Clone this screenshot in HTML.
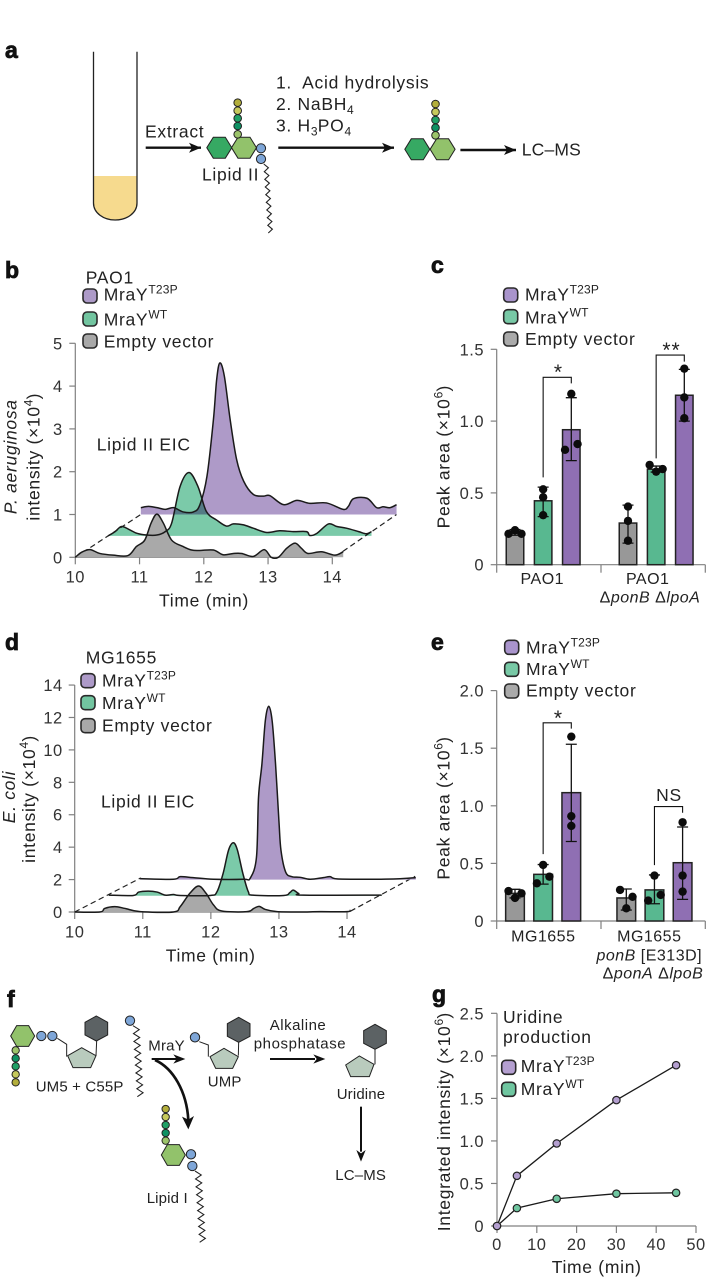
<!DOCTYPE html>
<html lang="en">
<head>
<meta charset="utf-8">
<title>MraY lipid II figure</title>
<style>
html,body{margin:0;padding:0;background:#fff;width:706px;height:1279px;overflow:hidden}
svg{display:block}
text{font-family:"Liberation Sans",sans-serif;font-size:17.5px;letter-spacing:.7px;fill:#222}
.panel{font-size:23px;font-weight:bold;letter-spacing:0;fill:#111;stroke:#111;stroke-width:.8px}
.tick{font-size:16.5px;letter-spacing:.5px;fill:#333}
.cat{font-size:16px;letter-spacing:.5px}
.sup{font-size:12px;letter-spacing:.2px}
.swatch{stroke:#2a2a2a;stroke-width:1.6}
.sch{font-size:15px;letter-spacing:.15px}
.star{font-size:21px;letter-spacing:1px}
</style>
</head>
<body>
<svg xmlns="http://www.w3.org/2000/svg" width="706" height="1279" viewBox="0 0 706 1279">
<defs>
<marker id="ah" markerUnits="userSpaceOnUse" markerWidth="14" markerHeight="12" refX="12" refY="5" orient="auto"><path d="M0,0 L12,5 L0,10 L3,5Z" fill="#111"/></marker>
</defs>

<!-- PANEL A -->
<g>
<text class="panel" x="5" y="58">a</text>
<path d="M93.5,176 H137 V203 C137,213 127,220 115.2,220 C103.5,220 93.5,213 93.5,203Z" fill="#f6da8e"/>
<path d="M93.5,51.7 V203 C93.5,213 103.5,220 115.2,220 C127,220 137,213 137,203 V51.7" fill="none" stroke="#222" stroke-width="1.3"/>
<text x="145" y="137.5">Extract</text>
<line x1="145.7" y1="147.7" x2="201" y2="147.7" stroke="#111" stroke-width="2.4" marker-end="url(#ah)"/>
<g stroke="#222" stroke-width="1">
<polygon transform="translate(219.3,147.7)" points="-12.5,0 -6,-10.5 6,-10.5 12.5,0 6,10.5 -6,10.5" fill="#36a963"/>
<polygon transform="translate(244,147.7)" points="-12.5,0 -6,-10.5 6,-10.5 12.5,0 6,10.5 -6,10.5" fill="#92c26b"/>
<circle cx="237.7" cy="102.7" r="3.8" fill="#b3ae3c"/>
<circle cx="237.7" cy="110.7" r="3.8" fill="#c6c95c"/>
<circle cx="237.7" cy="118.3" r="3.8" fill="#1fa066"/>
<circle cx="237.7" cy="126" r="3.8" fill="#0e9163"/>
<circle cx="237.7" cy="134.3" r="3.8" fill="#9cc46a"/>
<circle cx="261" cy="148.3" r="4.6" fill="#7ea6d8"/>
<circle cx="261" cy="159" r="4.6" fill="#7ea6d8"/>
</g>
<polyline data-zig="266,164,270.5,233,9,2.2" fill="none" stroke="#222" stroke-width="1.1"/>
<text x="202" y="180.7">Lipid II</text>
<text x="276" y="88.3">1.&#160; Acid hydrolysis</text>
<text x="276" y="110">2. NaBH<tspan class="sup" dy="4">4</tspan></text>
<text x="276" y="131.7">3. H<tspan class="sup" dy="4">3</tspan><tspan dy="-4">PO</tspan><tspan class="sup" dy="4">4</tspan></text>
<line x1="278.3" y1="147.7" x2="394" y2="147.7" stroke="#111" stroke-width="2.4" marker-end="url(#ah)"/>
<g stroke="#222" stroke-width="1">
<polygon transform="translate(417.3,149.3)" points="-12.5,0 -6,-10.5 6,-10.5 12.5,0 6,10.5 -6,10.5" fill="#36a963"/>
<polygon transform="translate(442.6,149.3)" points="-12.5,0 -6,-10.5 6,-10.5 12.5,0 6,10.5 -6,10.5" fill="#92c26b"/>
<circle cx="435.5" cy="104" r="3.8" fill="#b3ae3c"/>
<circle cx="435.5" cy="112" r="3.8" fill="#c6c95c"/>
<circle cx="435.5" cy="120" r="3.8" fill="#1fa066"/>
<circle cx="435.5" cy="127.7" r="3.8" fill="#0e9163"/>
<circle cx="435.5" cy="135.3" r="3.8" fill="#9cc46a"/>
</g>
<line x1="460.4" y1="150" x2="516" y2="150" stroke="#111" stroke-width="2.4" marker-end="url(#ah)"/>
<text x="521.8" y="155.5" style="letter-spacing:.15px">LC–MS</text>
</g>

<!-- PANEL B -->
<g>
<text class="panel" x="5" y="278">b</text>
<g id="chart-b"></g>
<text x="85.7" y="283.3">PAO1</text>
<rect class="swatch" x="83" y="289" width="14" height="14" rx="4" fill="#ad9ac8"/>
<text x="103.7" y="300.7">MraY<tspan class="sup" dy="-7">T23P</tspan></text>
<rect class="swatch" x="83" y="312" width="14" height="14" rx="4" fill="#72c5a0"/>
<text x="103.7" y="325.7">MraY<tspan class="sup" dy="-7">WT</tspan></text>
<rect class="swatch" x="83" y="334" width="14" height="14" rx="4" fill="#a8a8a8"/>
<text x="103.7" y="347.7">Empty vector</text>
<text x="96.7" y="450.7">Lipid II EIC</text>
<text transform="translate(16.7,456.7) rotate(-90)" text-anchor="middle"><tspan font-style="italic">P. aeruginosa</tspan></text>
<text transform="translate(39.3,456.7) rotate(-90)" text-anchor="middle">intensity (×10<tspan class="sup" dy="-7">4</tspan><tspan dy="7">)</tspan></text>
<text x="204" y="606.7" text-anchor="middle">Time (min)</text>
</g>

<!-- PANEL C -->
<g>
<text class="panel" x="431" y="273">c</text>
<g id="chart-c"></g>
<rect class="swatch" x="503.7" y="288" width="14" height="14" rx="4" fill="#a994cc"/>
<text x="525" y="300.7">MraY<tspan class="sup" dy="-7">T23P</tspan></text>
<rect class="swatch" x="503.7" y="309.7" width="14" height="14" rx="4" fill="#78c9a6"/>
<text x="525" y="323.3">MraY<tspan class="sup" dy="-7">WT</tspan></text>
<rect class="swatch" x="503.7" y="332" width="14" height="14" rx="4" fill="#aaa"/>
<text x="525" y="345">Empty vector</text>
<text transform="translate(449.3,456.7) rotate(-90)" text-anchor="middle">Peak area (×10<tspan class="sup" dy="-7">6</tspan><tspan dy="7">)</tspan></text>
<text class="cat" x="542.3" y="584" text-anchor="middle">PAO1</text>
<text class="cat" x="647.7" y="584" text-anchor="middle">PAO1</text>
<text class="cat" x="650" y="602.3" text-anchor="middle">Δ<tspan font-style="italic">ponB</tspan> Δ<tspan font-style="italic">lpoA</tspan></text>
<text class="star" x="558.5" y="379" text-anchor="middle">*</text>
<text class="star" x="671.5" y="357" text-anchor="middle">**</text>
</g>

<!-- PANEL D -->
<g>
<text class="panel" x="5" y="650">d</text>
<g id="chart-d"></g>
<text x="85.7" y="663.3">MG1655</text>
<rect class="swatch" x="81" y="673.7" width="14" height="14" rx="4" fill="#ad9ac8"/>
<text x="102" y="686.7">MraY<tspan class="sup" dy="-7">T23P</tspan></text>
<rect class="swatch" x="81" y="695.7" width="14" height="14" rx="4" fill="#72c5a0"/>
<text x="102" y="709">MraY<tspan class="sup" dy="-7">WT</tspan></text>
<rect class="swatch" x="81" y="718.7" width="14" height="14" rx="4" fill="#a8a8a8"/>
<text x="102" y="731.7">Empty vector</text>
<text x="101" y="807.3">Lipid II EIC</text>
<text transform="translate(15,797) rotate(-90)" text-anchor="middle"><tspan font-style="italic">E. coli</tspan></text>
<text transform="translate(35,799) rotate(-90)" text-anchor="middle">intensity (×10<tspan class="sup" dy="-7">4</tspan><tspan dy="7">)</tspan></text>
<text x="210.7" y="961.7" text-anchor="middle">Time (min)</text>
</g>

<!-- PANEL E -->
<g>
<text class="panel" x="431" y="650">e</text>
<g id="chart-e"></g>
<rect class="swatch" x="504.7" y="640.3" width="14" height="14" rx="4" fill="#a994cc"/>
<text x="526" y="653.3">MraY<tspan class="sup" dy="-7">T23P</tspan></text>
<rect class="swatch" x="504.7" y="662.3" width="14" height="14" rx="4" fill="#78c9a6"/>
<text x="526" y="675">MraY<tspan class="sup" dy="-7">WT</tspan></text>
<rect class="swatch" x="504.7" y="684" width="14" height="14" rx="4" fill="#aaa"/>
<text x="526" y="696.7">Empty vector</text>
<text transform="translate(449.3,808) rotate(-90)" text-anchor="middle">Peak area (×10<tspan class="sup" dy="-7">6</tspan><tspan dy="7">)</tspan></text>
<text class="cat" x="543.3" y="941.7" text-anchor="middle">MG1655</text>
<text class="cat" x="649.3" y="941.7" text-anchor="middle">MG1655</text>
<text class="cat" x="649.3" y="960.7" text-anchor="middle"><tspan font-style="italic">ponB</tspan> [E313D]</text>
<text class="cat" x="653" y="978.3" text-anchor="middle">Δ<tspan font-style="italic">ponA</tspan> Δ<tspan font-style="italic">lpoB</tspan></text>
<text class="star" x="558.5" y="725" text-anchor="middle">*</text>
<text x="669" y="801" text-anchor="middle">NS</text>
</g>

<!-- PANEL F -->
<g>
<text class="panel" x="7" y="1007">f</text>
<g transform="translate(0,985) scale(.33333)">
<g stroke="#222" stroke-width="3">
<polyline points="172,160 200,178 200,215" fill="none"/>
<line x1="288" y1="212" x2="290" y2="168"/>
<polygon points="32,153 50,122 86,122 104,153 86,184 50,184" fill="#92c26b"/>
<circle cx="47" cy="196" r="11" fill="#9cc46a"/>
<circle cx="47" cy="220" r="11" fill="#0e9163"/>
<circle cx="47" cy="244" r="11" fill="#1fa066"/>
<circle cx="47" cy="268" r="11" fill="#c6c95c"/>
<circle cx="47" cy="292" r="11" fill="#b3ae3c"/>
<circle cx="124" cy="153" r="14" fill="#7ea6d8"/>
<circle cx="157" cy="153" r="14" fill="#7ea6d8"/>
<polygon points="203,212 245,188 288,212 272,248 219,248" fill="#b9cbbd"/>
<polygon points="289,93 323,112 323,150 289,168 255,150 255,112" fill="#5c6264"/>
</g>
<circle cx="390" cy="107" r="14" fill="#7ea6d8" stroke="#222" stroke-width="3"/>
<polyline data-zig="408,122,421,335,9,9" fill="none" stroke="#222" stroke-width="3.2"/>
<line x1="455" y1="222" x2="530" y2="222" stroke="#111" stroke-width="6"/>
<polygon points="520,208 556,222 520,236 530,222" fill="#111"/>
<path d="M465,225 C520,250 560,320 565,405" fill="none" stroke="#111" stroke-width="8"/>
<polygon points="546,395 565,433 582,393 565,404" fill="#111"/>
<g stroke="#222" stroke-width="3">
<polyline points="598,170 625,180 625,215" fill="none"/>
<line x1="715" y1="212" x2="716" y2="170"/>
<circle cx="585" cy="157" r="14" fill="#7ea6d8"/>
<polygon points="630,215 672,190 715,215 698,250 647,250" fill="#b9cbbd"/>
<polygon points="716,97 750,116 750,154 716,172 682,154 682,116" fill="#5c6264"/>
</g>
<line x1="810" y1="222" x2="945" y2="222" stroke="#111" stroke-width="6"/>
<polygon points="940,208 976,222 940,236 950,222" fill="#111"/>
<g stroke="#222" stroke-width="3">
<line x1="1125" y1="190" x2="1125" y2="238"/>
<polygon points="1037,240 1078,213 1122,238 1108,275 1052,275" fill="#b9cbbd"/>
<polygon points="1125,118 1159,137 1159,175 1125,193 1091,175 1091,137" fill="#5c6264"/>
</g>
<line x1="1083" y1="365" x2="1083" y2="500" stroke="#111" stroke-width="6"/>
<polygon points="1069,495 1083,530 1097,495 1083,505" fill="#111"/>
<g stroke="#222" stroke-width="3">
<circle cx="497" cy="372" r="11" fill="#b3ae3c"/>
<circle cx="497" cy="396" r="11" fill="#c6c95c"/>
<circle cx="497" cy="420" r="11" fill="#1fa066"/>
<circle cx="497" cy="444" r="11" fill="#0e9163"/>
<circle cx="497" cy="467" r="11" fill="#9cc46a"/>
<polygon points="484,510 502,479 538,479 556,510 538,541 502,541" fill="#92c26b"/>
<circle cx="573" cy="508" r="14" fill="#7ea6d8"/>
<circle cx="577" cy="543" r="14" fill="#7ea6d8"/>
</g>
<polyline data-zig="594,558,608,772,9,9" fill="none" stroke="#222" stroke-width="3.2"/>
</g>
<text class="sch" x="35.7" y="1091.7">UM5 + C55P</text>
<text class="sch" x="148.3" y="1050.7">MraY</text>
<text class="sch" x="224.7" y="1086.7" text-anchor="middle">UMP</text>
<text class="sch" x="298" y="1030" text-anchor="middle" style="letter-spacing:.5px">Alkaline</text>
<text class="sch" x="300" y="1048.3" text-anchor="middle" style="letter-spacing:.6px">phosphatase</text>
<text class="sch" x="361" y="1099" text-anchor="middle">Uridine</text>
<text class="sch" x="360.7" y="1180" text-anchor="middle">LC–MS</text>
<text class="sch" x="146.7" y="1203">Lipid I</text>
</g>

<!-- PANEL G -->
<g>
<text class="panel" x="432" y="1002">g</text>
<g id="chart-g"></g>
<text x="503" y="1023">Uridine</text>
<text x="503" y="1043">production</text>
<rect class="swatch" x="501.7" y="1060.3" width="14" height="14" rx="4" fill="#b49fd0"/>
<text x="520.7" y="1072">MraY<tspan class="sup" dy="-7">T23P</tspan></text>
<rect class="swatch" x="501.7" y="1082.3" width="14" height="14" rx="4" fill="#6fc6a0"/>
<text x="520.7" y="1095">MraY<tspan class="sup" dy="-7">WT</tspan></text>
<text transform="translate(450,1121.7) rotate(-90)" text-anchor="middle">Integrated intensity (×10<tspan class="sup" dy="-7">6</tspan><tspan dy="7">)</tspan></text>
<text x="596.7" y="1273" text-anchor="middle">Time (min)</text>
</g>
</svg>

<script>
// ---------- Panel b data ----------
const bXTicks = [10, 11, 12, 13, 14];
const bYTicks = [0, 1, 2, 3, 4, 5];
const bGreyTimes = [10,10.1,10.23,10.38,10.59,10.82,10.95,11.08,11.18,11.27,11.37,11.5,11.68,11.81,11.94,12.15,12.3,12.46,12.59,12.77,12.94,13.05,13.16,13.29,13.42,13.52,13.62,13.83,14.04,14.17];
const bGreyValues = [0,.12,.18,.09,.05,.04,.25,.4,.8,1.01,.8,.4,.25,.17,.16,.17,.06,.09,.09,.02,.18,0,0,.21,.33,.21,.09,.13,.05,.13];
const bGreenTimes = [10.01,10.12,10.22,10.35,10.46,10.61,10.77,10.9,11,11.13,11.27,11.41,11.54,11.7,11.85,11.96,12.11,12.27,12.48,12.68,12.89,13.1,13.15,13.26,13.44,13.57,13.72,13.91,14.03,14.11];
const bGreenValues = [0,.1,.22,.14,.06,.02,.02,.1,.3,1.15,1.48,1.15,.57,.37,.23,.28,.26,.18,.08,.12,.1,.1,.01,.06,.28,.22,.18,.1,.05,.1];
const bPurpleTimes = [10.02,10.14,10.27,10.4,10.53,10.68,10.84,10.94,11.05,11.15,11.2,11.25,11.32,11.41,11.51,11.62,11.77,11.93,12.03,12.24,12.45,12.65,12.91,13.17,13.25,13.33,13.54,13.69,13.79,13.9,14];
const bPurpleValues = [.16,.19,.16,.12,.16,.06,.06,.23,.9,2.22,3.15,3.54,3.23,2.22,1.29,.78,.47,.43,.44,.23,.33,.26,.27,.12,.19,.37,.38,.16,.18,.16,.23];

// ---------- Panel d data ----------
const dXTicks = [10, 11, 12, 13, 14];
const dYTicks = [0, 2, 4, 6, 8, 10, 12, 14];
const dGreyTimes = [10,10.37,10.44,10.59,10.74,10.96,11.45,11.55,11.69,11.82,11.93,12.04,12.16,12.53,12.63,12.71,12.8,12.97,13.31,13.6,14,14.05];
const dGreyValues = [0,0,.22,.33,.22,.02,0,.33,1.15,1.6,1.15,.43,.06,.02,.22,.35,.16,.02,0,.02,.02,.12];
const dGreenTimes = [10,10.36,10.44,10.58,10.71,10.83,10.95,11.05,11.49,11.59,11.68,11.76,11.83,11.89,11.97,12.05,12.12,12.57,12.66,12.71,12.79,12.86,14.01];
const dGreenValues = [.04,.02,.23,.29,.23,.04,.08,.02,.02,.25,1.38,2.82,3.27,2.82,1.38,.25,.04,.02,.2,.35,.14,.04,.04];
const dPurpleTimes = [9.96,10.45,10.55,10.74,11.04,11.48,11.58,11.67,11.7,11.75,11.8,11.85,11.9,11.95,12,12.03,12.1,12.19,12.31,12.46,12.65,12.75,12.85,13.29,13.73,14.01];
const dPurpleValues = [.06,.02,.18,.12,.02,.02,.1,1.38,5.08,7.13,9.8,10.69,9.8,7.13,3.6,1.8,.45,.18,.14,.02,.12,.18,.04,.02,.04,.12];

// ---------- Panel c data ----------
const cYTicks = [0, 0.5, 1, 1.5];
const cYTickLabels = ['0', '0.5', '1.0', '1.5'];
const cGreyMeans = [.22, .29];
const cGreenMeans = [.445, .665];
const cPurpleMeans = [.94, 1.18];
const cGreyLow = [.205, .15];
const cGreyHigh = [.245, .415];
const cGreenLow = [.335, .645];
const cGreenHigh = [.54, .687];
const cPurpleLow = [.725, 1.0];
const cPurpleHigh = [1.163, 1.36];
const cGreyPoints = [[.215, .24, .215], [.405, .305, .167]];
const cGreenPoints = [[.525, .47, .345], [.695, .648, .666]];
const cPurplePoints = [[1.19, .8, .84], [1.365, 1.165, 1.02]];
const cBracketTop = [1.305, 1.46];
const cBracketLeftEnd = [.608, .74];
const cBracketRightEnd = [1.263, 1.414];

// ---------- Panel e data ----------
const eYTicks = [0, 0.5, 1, 1.5, 2];
const eYTickLabels = ['0', '0.5', '1.0', '1.5', '2.0'];
const eGreyMeans = [.24, .2];
const eGreenMeans = [.405, .27];
const ePurpleMeans = [1.114, .506];
const eGreyLow = [.2, .095];
const eGreyHigh = [.275, .278];
const eGreenLow = [.32, .15];
const eGreenHigh = [.49, .4];
const ePurpleLow = [.69, .188];
const ePurpleHigh = [1.534, .816];
const eGreyPoints = [[.26, .2, .24], [.27, .21, .11]];
const eGreenPoints = [[.487, .327, .385], [.394, .177, .226]];
const ePurplePoints = [[1.6, .91, .825], [.857, .394, .255]];
const eBracketTop = [1.72, .993];
const eBracketLeftEnd = [.58, .485];
const eBracketRightEnd = [1.67, .94];

// ---------- Panel g data ----------
const gXTicks = [0, 10, 20, 30, 40, 50];
const gYTicks = [0, 0.5, 1, 1.5, 2, 2.5];
const gYTickLabels = ['0', '0.5', '1.0', '1.5', '2.0', '2.5'];
const gTimes = [0, 5, 15, 30, 45];
const gT23pValues = [0, .59, .97, 1.48, 1.89];
const gWtValues = [0, .21, .32, .38, .39];

// ---------- Axis scales ----------
const bX = t => 75.3 + (t - 10) * 64.25;
const bY = v => 557.3 - v * 42.8;
const dX = t => 74.7 + (t - 10) * 68.08;
const dY = v => 912 - v * 16.21;
const cY = v => 564.7 - v * 143.6;
const eY = v => 921 - v * 115.2;
const gX = t => 497 + t * 3.98;
const gY = v => 1226 - v * 85.07;
const slotX = (group, series, gap) => 515 + 28.15 * series + group * gap;

const SVGNS = 'http://www.w3.org/2000/svg';
function make(parent, tag, attrs) {
  const el = document.createElementNS(SVGNS, tag);
  for (const k in attrs) el.setAttribute(k, attrs[k]);
  parent.appendChild(el);
  return el;
}

// zigzag chains in the schematics
document.querySelectorAll('polyline[data-zig]').forEach(function (p) {
  const a = p.getAttribute('data-zig').split(',').map(Number);
  const steps = a[4] * 2;
  let pts = [];
  for (let i = 0; i <= steps; i++) {
    const f = i / steps;
    const off = i % 2 ? a[5] : -a[5];
    pts.push((a[0] + (a[2] - a[0]) * f + off).toFixed(1) + ',' + (a[1] + (a[3] - a[1]) * f).toFixed(1));
  }
  p.setAttribute('points', pts.join(' '));
});

function smoothPath(pts) {
  let d = 'M' + pts[0][0].toFixed(2) + ',' + pts[0][1].toFixed(2);
  for (let i = 0; i < pts.length - 1; i++) {
    const p0 = pts[Math.max(i - 1, 0)], p1 = pts[i], p2 = pts[i + 1], p3 = pts[Math.min(i + 2, pts.length - 1)];
    const c1x = p1[0] + (p2[0] - p0[0]) / 6, c1y = p1[1] + (p2[1] - p0[1]) / 6;
    const c2x = p2[0] - (p3[0] - p1[0]) / 6, c2y = p2[1] - (p3[1] - p1[1]) / 6;
    d += 'C' + c1x.toFixed(2) + ',' + c1y.toFixed(2) + ' ' + c2x.toFixed(2) + ',' + c2y.toFixed(2) + ' ' + p2[0].toFixed(2) + ',' + p2[1].toFixed(2);
  }
  return d;
}

function drawTrace(g, xs, ys, times, values, tShift, vShift, fill, blend, name) {
  const pts = times.map((t, i) => [xs(t + tShift), ys(values[i] + vShift)]);
  const line = smoothPath(pts);
  const base = ys(vShift);
  const area = make(g, 'path', {
    d: line + 'L' + pts[pts.length - 1][0].toFixed(2) + ',' + base + 'L' + pts[0][0].toFixed(2) + ',' + base + 'Z',
    fill: fill
  });
  if (blend) area.style.mixBlendMode = 'multiply';
  
  
  return { line: line, name: name };
}
function strokeTrace(g, tr) {
  const el = make(g, 'path', { d: tr.line, fill: 'none', stroke: '#1a1a1a', 'stroke-width': 1.5 });
  
  
}

function drawAxisY(g, ys, ticks, labels, axisX, labelX) {
  const axis = make(g, 'line', { x1: axisX, x2: axisX, y1: ys(ticks[0]), y2: ys(ticks[ticks.length - 1]), stroke: '#808080', 'stroke-width': 1.2 });
  
  
  ticks.forEach(function (v, i) {
    const tk = make(g, 'line', { x1: axisX - 6, x2: axisX, y1: ys(v), y2: ys(v), stroke: '#808080', 'stroke-width': 1.2 });
    
    
    const tx = make(g, 'text', { x: labelX, y: ys(v) + 6, 'text-anchor': 'end', class: 'tick' });
    tx.textContent = labels[i];
    
    
  });
}
function drawAxisX(g, xs, ticks, y, labelY, x0, x1) {
  const axis = make(g, 'line', { x1: x0, x2: x1, y1: y, y2: y, stroke: '#808080', 'stroke-width': 1.2 });
  
  
  ticks.forEach(function (t) {
    const tk = make(g, 'line', { x1: xs(t), x2: xs(t), y1: y, y2: y + 7, stroke: '#808080', 'stroke-width': 1.2 });
    
    
    const tx = make(g, 'text', { x: xs(t), y: labelY, 'text-anchor': 'middle', class: 'tick' });
    tx.textContent = String(t);
    
    
  });
}
function dashed(g, x1, y1, x2, y2) {
  const el = make(g, 'line', { x1: x1, y1: y1, x2: x2, y2: y2, stroke: '#222', 'stroke-width': 1.2, 'stroke-dasharray': '5.5 3.5' });
  
  
}

// ---------- Chromatograms ----------
(function () {
  const g = document.getElementById('chart-b');
  drawAxisY(g, bY, bYTicks, bYTicks.map(String), 75.3, 62.7);
  drawAxisX(g, bX, bXTicks, bY(0), 582.7, bX(10), bX(14));
  dashed(g, bX(10), bY(0), bX(11.02), bY(1));
  dashed(g, bX(14.05), bY(0.02), bX(15), bY(1));
  const p = drawTrace(g, bX, bY, bPurpleTimes, bPurpleValues, 1, 1, '#ae9ac8', false, 'mray-t23p');
  const w = drawTrace(g, bX, bY, bGreenTimes, bGreenValues, .5, .5, '#7bcaa9', true, 'mray-wt');
  const e = drawTrace(g, bX, bY, bGreyTimes, bGreyValues, 0, 0, '#a9a9a9', false, 'empty-vector');
  [p, w, e].forEach(tr => strokeTrace(g, tr));
})();
(function () {
  const g = document.getElementById('chart-d');
  drawAxisY(g, dY, dYTicks, dYTicks.map(String), 74.7, 62.7);
  drawAxisX(g, dX, dXTicks, dY(0), 937.3, dX(10), dX(14));
  dashed(g, dX(10), dY(0), dX(10.97), dY(2.1));
  dashed(g, dX(14.05), dY(0.05), dX(15), dY(2.2));
  const p = drawTrace(g, dX, dY, dPurpleTimes, dPurpleValues, 1, 2, '#ae9ac8', false, 'mray-t23p');
  const w = drawTrace(g, dX, dY, dGreenTimes, dGreenValues, .5, 1, '#7bcaa9', true, 'mray-wt');
  const e = drawTrace(g, dX, dY, dGreyTimes, dGreyValues, 0, 0, '#a9a9a9', false, 'empty-vector');
  [p, w, e].forEach(tr => strokeTrace(g, tr));
})();

// ---------- Bar charts ----------
function swarm(values, ys) {
  const order = values.map((v, i) => i).sort((a, b) => values[a] - values[b]);
  const out = values.map(() => 0);
  let cluster = [order[0]];
  function flush() {
    const n = cluster.length;
    if (n > 1) {
      const gap = n === 2 ? 12.5 : 6.5;
      cluster.slice().sort((a, b) => a - b).forEach((idx, k) => { out[idx] = (k - (n - 1) / 2) * gap; });
    }
  }
  for (let i = 1; i < order.length; i++) {
    if (Math.abs(ys(values[order[i]]) - ys(values[order[i - 1]])) < 7) cluster.push(order[i]);
    else { flush(); cluster = [order[i]]; }
  }
  flush();
  return out;
}
function drawSeries(g, ys, means, low, high, points, seriesIndex, gap, width, fill, name) {
  means.forEach(function (m, gi) {
    const cx = slotX(gi, seriesIndex, gap);
    const bar = make(g, 'rect', { x: cx - width / 2, y: ys(m), width: width, height: ys(0) - ys(m), fill: fill, stroke: '#222', 'stroke-width': 1.5 });
    
    
    const err = make(g, 'path', {
      d: 'M' + cx + ',' + ys(low[gi]) + 'V' + ys(high[gi]) +
         'M' + (cx - 5.5) + ',' + ys(low[gi]) + 'H' + (cx + 5.5) +
         'M' + (cx - 5.5) + ',' + ys(high[gi]) + 'H' + (cx + 5.5),
      stroke: '#111', 'stroke-width': 1.3, fill: 'none'
    });
    
    
    const off = swarm(points[gi], ys);
    points[gi].forEach(function (v, k) {
      const dot = make(g, 'circle', { cx: cx + off[k], cy: ys(v), r: 4.2, fill: '#0c0c0c' });
      
      
    });
  });
}
function drawBarFrame(g, ys, ticks, labels, baseTicks) {
  drawAxisY(g, ys, ticks, labels, 496.7, 484);
  const base = make(g, 'line', { x1: 496.7, x2: 705.3, y1: ys(0), y2: ys(0), stroke: '#808080', 'stroke-width': 1.2 });
  
  
  baseTicks.forEach(function (x) {
    const tk = make(g, 'line', { x1: x, x2: x, y1: ys(0), y2: ys(0) + 8, stroke: '#808080', 'stroke-width': 1.2 });
    
    
  });
}
function drawBrackets(g, ys, tops, lefts, rights, gap) {
  tops.forEach(function (top, gi) {
    const x0 = slotX(gi, 1, gap), x1 = slotX(gi, 2, gap);
    const b = make(g, 'path', { d: 'M' + x0 + ',' + ys(lefts[gi]) + 'V' + ys(top) + 'H' + x1 + 'V' + ys(rights[gi]), fill: 'none', stroke: '#111', 'stroke-width': 1.1 });
    
    
  });
}
(function () {
  const g = document.getElementById('chart-c');
  const gap = 113, w = 17.5;
  drawBarFrame(g, cY, cYTicks, cYTickLabels, [496.7, 601, 705.3]);
  drawSeries(g, cY, cGreyMeans, cGreyLow, cGreyHigh, cGreyPoints, 0, gap, w, '#989898', 'empty-vector');
  drawSeries(g, cY, cGreenMeans, cGreenLow, cGreenHigh, cGreenPoints, 1, gap, w, '#58b890', 'mray-wt');
  drawSeries(g, cY, cPurpleMeans, cPurpleLow, cPurpleHigh, cPurplePoints, 2, gap, w, '#8f6fb3', 'mray-t23p');
  drawBrackets(g, cY, cBracketTop, cBracketLeftEnd, cBracketRightEnd, gap);
})();
(function () {
  const g = document.getElementById('chart-e');
  const gap = 111.3, w = 18.7;
  drawBarFrame(g, eY, eYTicks, eYTickLabels, [496.7, 601, 705.3]);
  drawSeries(g, eY, eGreyMeans, eGreyLow, eGreyHigh, eGreyPoints, 0, gap, w, '#989898', 'empty-vector');
  drawSeries(g, eY, eGreenMeans, eGreenLow, eGreenHigh, eGreenPoints, 1, gap, w, '#58b890', 'mray-wt');
  drawSeries(g, eY, ePurpleMeans, ePurpleLow, ePurpleHigh, ePurplePoints, 2, gap, w, '#8f6fb3', 'mray-t23p');
  drawBrackets(g, eY, eBracketTop, eBracketLeftEnd, eBracketRightEnd, gap);
})();

// ---------- Line chart ----------
(function () {
  const g = document.getElementById('chart-g');
  drawAxisY(g, gY, gYTicks, gYTickLabels, gX(0), 484);
  drawAxisX(g, gX, gXTicks, gY(0), 1250, gX(0), gX(50));
  function series(values, fill, name) {
    const line = make(g, 'polyline', { points: gTimes.map((t, i) => gX(t) + ',' + gY(values[i])).join(' '), fill: 'none', stroke: '#1a1a1a', 'stroke-width': 1.3 });
    
    
    gTimes.forEach(function (t, i) {
      const pt = make(g, 'circle', { cx: gX(t), cy: gY(values[i]), r: 3.7, fill: fill, stroke: '#222', 'stroke-width': 1.2 });
      
      
    });
  }
  series(gWtValues, '#6fc6a0', 'mray-wt');
  series(gT23pValues, '#b49fd0', 'mray-t23p');
})();
</script>
</body>
</html>
